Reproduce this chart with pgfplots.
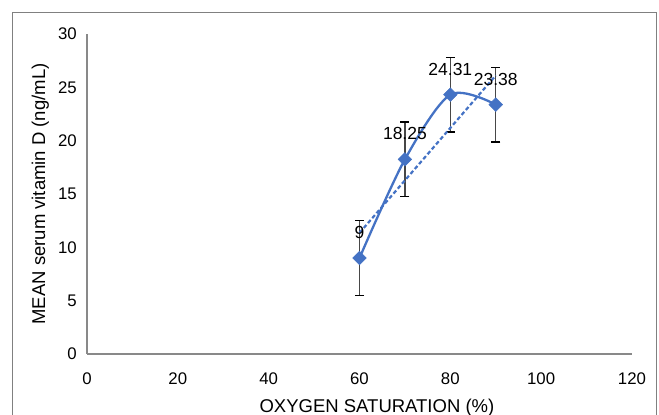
\documentclass[border=0pt]{standalone}
\usepackage{pgfplots}
\pgfplotsset{compat=1.18}
\usepackage{fontspec}
\setmainfont{Liberation Sans}
\definecolor{ser}{RGB}{68,114,196}
\definecolor{axgray}{RGB}{137,137,137}
\definecolor{bordergray}{RGB}{128,128,128}
\pgfplotstableread{
x y e lbl
60 9 3.5 9
70 18.25 3.5 18.25
80 24.31 3.5 24.31
90 23.38 3.5 23.38
}\datatable
\begin{document}
\begin{tikzpicture}[x=1pt,y=1pt]
\useasboundingbox (-87,-61) rectangle (572,354);
\draw[bordergray, line width=1pt] (-74,-70) -- (-74,341) -- (569,341) -- (569,-70);
\begin{axis}[
  at={(0,0)}, anchor=south west,
  scale only axis, width=545pt, height=320pt,
  xmin=0, xmax=120, ymin=0, ymax=30,
  xtick={0,20,...,120}, ytick={0,5,...,30},
  axis x line*=bottom, axis y line*=left,
  axis line style={draw=axgray, line width=1.3pt},
  major tick length=0pt,
  /pgf/number format/assume math mode=true,
  tick label style={font=\fontsize{16.8}{18}\selectfont, text=black},
  xticklabel style={anchor=north, inner sep=0pt, yshift=-19pt},
  yticklabel style={anchor=east, inner sep=0pt, xshift=-10pt},
  xlabel={OXYGEN SATURATION (\%)},
  ylabel={MEAN serum vitamin D (ng/mL)},
  label style={font=\fontsize{18.5}{20}\selectfont, inner sep=0pt},
  xlabel style={at={(axis description cs:0.532,-0.1406)}, anchor=north},
  ylabel style={at={(axis description cs:-0.077,0.5)}, anchor=base},
  clip=false,
]
\addplot[draw=none, mark=none,
  error bars/.cd, y dir=both, y explicit,
  error bar style={draw=black!72, solid, line width=1.3pt},
  error mark=|,
  error mark options={draw=black, solid, line width=1.3pt, mark size=4.5pt}]
  table[x=x, y=y, y error=e] {\datatable};
\addplot[ser, line width=2.3pt, smooth, tension=0.5,
  mark=square*, mark size=4.8pt,
  mark options={rotate=45, fill=ser, draw=ser, solid, line width=0.5pt}]
  table[x=x, y=y] {\datatable};
\addplot[ser, line width=2.2pt, dash pattern=on 4pt off 2.5pt, mark=none]
  coordinates {(60,11.355) (90,26.115)};
\addplot[draw=none, mark=none, nodes near coords, point meta=explicit symbolic,
  nodes near coords style={anchor=south, inner sep=0pt, yshift=19pt,
    font=\fontsize{17.5}{19}\selectfont, text=black}]
  table[x=x, y=y, meta=lbl] {\datatable};
\end{axis}
\end{tikzpicture}
\end{document}
